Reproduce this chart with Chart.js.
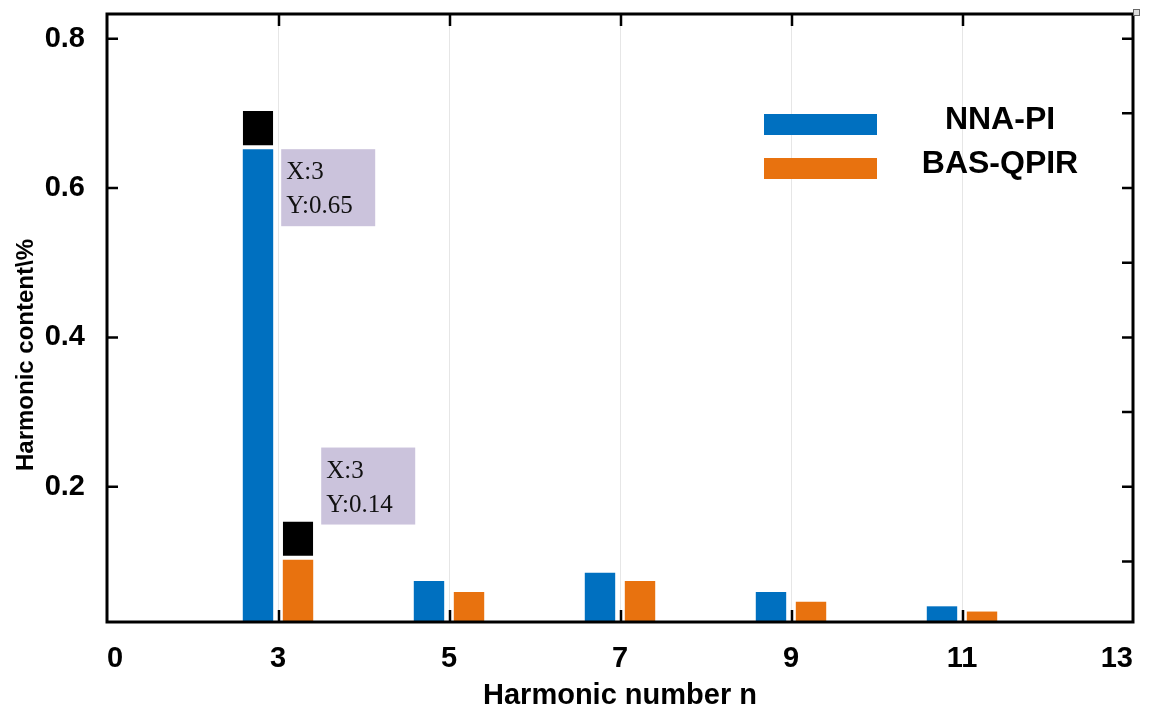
<!DOCTYPE html>
<html>
<head>
<meta charset="utf-8">
<script src="https://cdn.jsdelivr.net/npm/chart.js@4/dist/chart.umd.min.js"></script>
<style>
  html, body { margin: 0; padding: 0; background: #fff; }
  #wrap { width: 1150px; height: 721px; }
</style>
</head>
<body>
<div id="wrap"><canvas id="chart"></canvas></div>
<script>
// harmonic orders and contents
const harmonicOrders = [3, 5, 7, 9, 11];
const nnaPi   = [0.652, 0.074, 0.085, 0.059, 0.040];
const basQpir = [0.1025, 0.059, 0.074, 0.046, 0.033];
const seriesNames = ['NNA-PI', 'BAS-QPIR'];

// data tip markers (black squares) sitting on the 3rd harmonic bars
const markerOrders = [3];
const markerHeight = [0.051];
const tipText = [['X:3', 'Y:0.65'], ['X:3', 'Y:0.14']];

// axis ticks
const xTickValues = [1, 3, 5, 7, 9, 11, 13];
const xTickLabels = ['0', '3', '5', '7', '9', '11', '13'];
const xInnerTicks = [3, 5, 7, 9, 11];
const yTickValues = [0.2, 0.4, 0.6, 0.8];
const yRightTicks = [0.1, 0.2, 0.3, 0.4, 0.5, 0.6, 0.7, 0.8];

const blue = '#0070c0';
const orange = '#e8720f';

const pts = (xs, ys) => xs.map((x, i) => ({ x: x, y: ys[i] }));

/* frame, inward ticks, legend, data tips and y title */
const decor = {
  id: 'decor',
  afterDatasetsDraw(chart) {
    const { ctx, chartArea: a, scales: { x, y } } = chart;
    ctx.save();
    ctx.strokeStyle = '#000';
    ctx.lineWidth = 3;
    ctx.strokeRect(a.left, a.top, a.right - a.left, a.bottom - a.top);
    ctx.lineWidth = 2.5;
    ctx.beginPath();
    yTickValues.forEach(v => {
      const py = y.getPixelForValue(v);
      ctx.moveTo(a.left, py); ctx.lineTo(a.left + 11, py);
    });
    yRightTicks.forEach(v => {
      const py = y.getPixelForValue(v);
      ctx.moveTo(a.right, py); ctx.lineTo(a.right - 11, py);
    });
    xInnerTicks.forEach(v => {
      const px = x.getPixelForValue(v) + 1;
      ctx.moveTo(px, a.bottom); ctx.lineTo(px, a.bottom - 12);
      ctx.moveTo(px, a.top); ctx.lineTo(px, a.top + 12);
    });
    ctx.stroke();

    // tiny corner box
    ctx.lineWidth = 1;
    ctx.fillStyle = '#ddd';
    ctx.fillRect(a.right, a.top - 5, 7, 7);
    ctx.strokeStyle = '#666';
    ctx.strokeRect(a.right + 0.5, a.top - 4.5, 6, 6);

    // legend
    const colors = [blue, orange];
    ctx.font = 'bold 32px "Liberation Sans", Arial, sans-serif';
    ctx.textAlign = 'center';
    ctx.textBaseline = 'middle';
    seriesNames.forEach((name, i) => {
      const ly = a.top + 110 + i * 44;
      ctx.fillStyle = colors[i];
      ctx.fillRect(764, ly - 10, 113, 21);
      ctx.fillStyle = '#000';
      ctx.fillText(name, 1000, ly - 4);
    });

    // data tips
    ctx.textAlign = 'left';
    ctx.textBaseline = 'alphabetic';
    ctx.font = '25px "Liberation Serif", "Times New Roman", serif';
    [0, 1].forEach(i => {
      const bar = chart.getDatasetMeta(i).data[0];
      const mk = chart.getDatasetMeta(2 + i).data[0];
      const left = bar.x + bar.width / 2 + 8;
      const top = i === 0 ? bar.y : mk.y - 74;
      ctx.fillStyle = '#cbc3dc';
      ctx.fillRect(left, top, 94, 77);
      ctx.fillStyle = '#111';
      ctx.fillText(tipText[i][0], left + 5, top + 30);
      ctx.fillText(tipText[i][1], left + 5, top + 64);
    });

    // y axis title
    ctx.save();
    ctx.translate(26, 355);
    ctx.rotate(-Math.PI / 2);
    ctx.textAlign = 'center';
    ctx.textBaseline = 'middle';
    ctx.fillStyle = '#000';
    ctx.font = 'bold 24px "Liberation Sans", Arial, sans-serif';
    ctx.fillText('Harmonic content\\%', 0, 0);
    ctx.restore();

    ctx.restore();
  }
};

new Chart(document.getElementById('chart'), {
  type: 'bar',
  data: {
    datasets: [
      { label: seriesNames[0], data: pts(harmonicOrders, nnaPi), backgroundColor: blue, stack: 'a' },
      { label: seriesNames[1], data: pts(harmonicOrders, basQpir), backgroundColor: orange, stack: 'b' },
      { label: 'tip1', data: pts(markerOrders, markerHeight), backgroundColor: '#000', stack: 'a',
        borderColor: '#fff', borderWidth: { top: 0, left: 0, right: 0, bottom: 4 }, borderSkipped: false },
      { label: 'tip2', data: pts(markerOrders, markerHeight), backgroundColor: '#000', stack: 'b',
        borderColor: '#fff', borderWidth: { top: 0, left: 0, right: 0, bottom: 4 }, borderSkipped: false }
    ]
  },
  options: {
    responsive: true,
    maintainAspectRatio: false,
    animation: false,
    categoryPercentage: 0.468,
    barPercentage: 0.76,
    layout: { padding: { left: 0, top: 14, right: 17, bottom: 0 } },
    plugins: {
      legend: { display: false },
      tooltip: { enabled: false }
    },
    scales: {
      x: {
        type: 'linear',
        offset: false,
        min: 1,
        max: 13,
        afterBuildTicks: s => { s.ticks = xTickValues.map(v => ({ value: v })); },
        afterFit: s => { s.height = 99; s.paddingLeft = 0; s.paddingRight = 0; },
        grid: {
          offset: false,
          drawTicks: false,
          color: c => (xInnerTicks.includes(c.tick && c.tick.value) ? '#e6e6e6' : 'rgba(0,0,0,0)'),
          lineWidth: 1
        },
        border: { display: false },
        ticks: {
          padding: 20,
          align: 'inner',
          color: '#000',
          maxRotation: 0,
          font: { family: '"Liberation Sans", Arial, sans-serif', size: 29, weight: 'bold' },
          callback: v => xTickLabels[xTickValues.indexOf(v)]
        },
        title: {
          display: true,
          text: 'Harmonic number n',
          color: '#000',
          padding: { top: 0, bottom: 8 },
          font: { family: '"Liberation Sans", Arial, sans-serif', size: 29, weight: 'bold' }
        }
      },
      y: {
        stacked: true,
        min: 0.019,
        max: 0.833,
        afterBuildTicks: s => { s.ticks = yTickValues.map(v => ({ value: v })); },
        afterFit: s => { s.width = 107; s.paddingTop = 0; s.paddingBottom = 0; },
        grid: { display: false, drawTicks: false },
        border: { display: false },
        ticks: {
          padding: 22,
          color: '#000',
          font: { family: '"Liberation Sans", Arial, sans-serif', size: 29, weight: 'bold' },
          callback: v => v.toFixed(1)
        }
      }
    }
  },
  plugins: [decor]
});
</script>
</body>
</html>
